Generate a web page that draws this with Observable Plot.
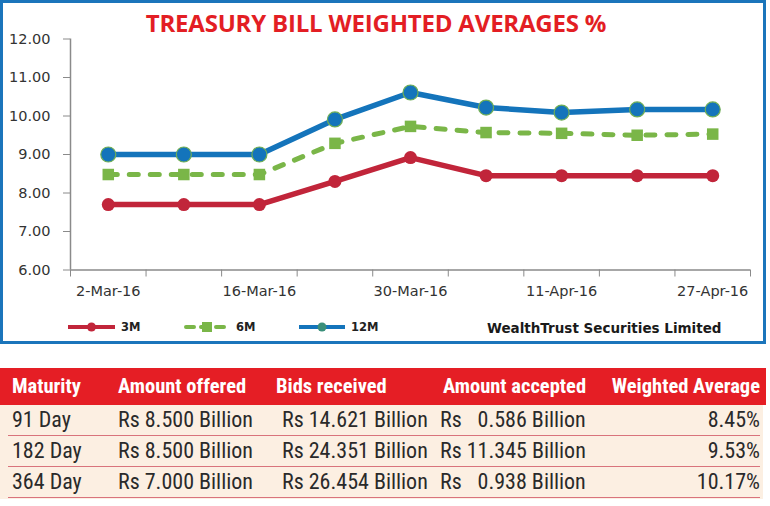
<!DOCTYPE html>
<html><head><meta charset="utf-8">
<script src="https://cdn.jsdelivr.net/npm/d3@7"></script>
<script src="https://cdn.jsdelivr.net/npm/@observablehq/plot@0.6"></script>
<style>
html,body{margin:0;padding:0;background:#fff;}
body{width:770px;height:506px;overflow:hidden;position:relative;font-family:"DejaVu Sans",sans-serif;}
#frame{position:absolute;left:0;top:0;width:760px;height:338px;border:3px solid #1b75bb;}
#title{position:absolute;left:0;top:6px;width:752px;text-align:center;font-family:"Open Sans",sans-serif;font-weight:700;font-size:24px;color:#e31e24;letter-spacing:-0.2px;}
#chart{position:absolute;left:0;top:0;}
#legend{position:absolute;left:0;top:315px;width:760px;height:24px;}
.lg{position:absolute;top:0;display:flex;align-items:center;height:24px;font-weight:700;font-size:11.5px;color:#222;}
#credit{position:absolute;left:487px;top:320px;font-weight:700;font-size:13.5px;color:#1a1a1a;}
#tbl{position:absolute;left:0;top:368px;width:766px;font-family:"Liberation Sans Narrow","Roboto Condensed","Liberation Sans",sans-serif;}
#tbl .hdr{height:37px;background:#e51e25;color:#fff;font-weight:700;font-size:20.5px;position:relative;}
#tbl .rowbg{background:#fcefe2;width:763px;padding-bottom:1px;}
#tbl .row{height:30px;color:#2a2a2a;font-size:22px;position:relative;border-bottom:1.5px solid #d9737c;margin:0 3px 0 8px;}
#tbl span{position:absolute;white-space:pre;}
</style></head>
<body>
<div id="frame"></div>
<div id="chart"></div>
<div id="title">TREASURY BILL WEIGHTED AVERAGES %</div>
<div id="legend"></div>
<div id="credit">WealthTrust Securities Limited</div>
<div id="tbl"></div>
<script>
// ---- chart data ----
const dates = ["2-Mar-16","9-Mar-16","16-Mar-16","23-Mar-16","30-Mar-16","6-Apr-16","11-Apr-16","20-Apr-16","27-Apr-16"];
const labelIdx = [0,2,4,6,8];
const m3  = [7.70,7.70,7.70,8.30,8.92,8.45,8.45,8.45,8.45];
const m6  = [8.48,8.48,8.48,9.29,9.73,9.57,9.55,9.50,9.53];
const m12 = [9.00,9.00,9.00,9.91,10.61,10.22,10.09,10.17,10.17];
const yTicks = [6,7,8,9,10,11,12];
const seriesNames = ["3M","6M","12M"];
const seriesColors = ["#c1253a","#7ab648","#1474bb"];

// ---- table data ----
const colHeaders = ["Maturity","Amount offered","Bids received","Amount accepted","Weighted Average"];
const maturity = ["91 Day","182 Day","364 Day"];
const offered  = ["Rs 8.500 Billion","Rs 8.500 Billion","Rs 7.000 Billion"];
const bids     = ["Rs 14.621 Billion","Rs 24.351 Billion","Rs 26.454 Billion"];
const accepted = ["Rs \u20070.586 Billion","Rs 11.345 Billion","Rs \u20070.938 Billion"];
const wavg     = ["8.45%","9.53%","10.17%"];

const toRows = (vals) => vals.map((v,i)=>({i, v}));
const d3m = toRows(m3), d6m = toRows(m6), d12m = toRows(m12);

const chart = Plot.plot({
  width: 763, height: 300,
  marginLeft: 70, marginTop: 38.5, marginBottom: 30.5, marginRight: 13,
  style: {fontFamily: "DejaVu Sans, sans-serif", color: "#333", background: "transparent"},
  x: {type: "linear", domain: [-0.5, 8.5]},
  y: {domain: [6, 12]},
  marks: [
    Plot.axisY({ticks: yTicks, tickSize: 7, tickPadding: 13, tickFormat: d3.format(".2f"), fontSize: 14.5, stroke: "#8a8a8a", label: null, fill: "#333"}),
    Plot.axisX({ticks: d3.range(-0.5, 9, 1), tickSize: 7, tickFormat: () => "", stroke: "#8a8a8a", label: null}),
    Plot.axisX({ticks: labelIdx, tickSize: 0, tickPadding: 16, tickFormat: i => dates[i], fontSize: 14.5, label: null, fill: "#333"}),
    Plot.ruleY([6], {stroke: "#8a8a8a", strokeWidth: 1.5}),
    Plot.ruleX([-0.5], {stroke: "#8a8a8a", strokeWidth: 1.5}),
    Plot.line(d3m, {x: "i", y: "v", stroke: seriesColors[0], strokeWidth: 5.5}),
    Plot.dot(d3m, {x: "i", y: "v", r: 6.5, fill: seriesColors[0]}),
    Plot.line(d6m, {x: "i", y: "v", stroke: seriesColors[1], strokeWidth: 5, strokeDasharray: "9,12", strokeLinecap: "round"}),
    Plot.dot(d6m, {x: "i", y: "v", r: 6.5, symbol: "square", fill: seriesColors[1]}),
    Plot.line(d12m, {x: "i", y: "v", stroke: seriesColors[2], strokeWidth: 5.5}),
    Plot.dot(d12m, {x: "i", y: "v", r: 7.5, fill: seriesColors[2], stroke: "#6fae55", strokeWidth: 1.2})
  ]
});
document.getElementById("chart").appendChild(chart);

// ---- legend ----
const legendPos = [[66,121],[182,236],[297,351]];
const lg = document.getElementById("legend");
seriesNames.forEach((name, k) => {
  const [x0, xt] = legendPos[k];
  const w = xt - x0 - 4;
  const div = document.createElement("div");
  div.className = "lg";
  div.style.left = x0 + "px";
  const sw = d3.create("svg").attr("width", w).attr("height", 24).style("margin-right", "4px");
  const line = sw.append("line").attr("x1", 2).attr("x2", w-2).attr("y1", 12).attr("y2", 12)
    .attr("stroke", seriesColors[k]).attr("stroke-width", 4);
  if (k === 1) line.attr("stroke-dasharray", "8,7").attr("stroke-linecap","round").attr("x1",4);
  if (k === 0) sw.append("circle").attr("cx", w/2).attr("cy", 12).attr("r", 4.5).attr("fill", seriesColors[0]);
  if (k === 1) sw.append("rect").attr("x", w/2-5).attr("y", 7).attr("width", 10).attr("height", 10).attr("fill", seriesColors[1]);
  if (k === 2) sw.append("circle").attr("cx", w/2).attr("cy", 12).attr("r", 4.5).attr("fill", "#3a8f7a");
  div.appendChild(sw.node());
  const t = document.createElement("span");
  t.textContent = name;
  div.appendChild(t);
  lg.appendChild(div);
});

// ---- table ----
const tbl = document.getElementById("tbl");
const hdrX = [12, 118, 276, 443, null];
const hdr = document.createElement("div");
hdr.className = "hdr";
colHeaders.forEach((h, j) => {
  const s = document.createElement("span");
  s.textContent = h;
  s.style.top = "6px";
  if (hdrX[j] !== null) s.style.left = hdrX[j] + "px"; else s.style.right = "6px";
  hdr.appendChild(s);
});
tbl.appendChild(hdr);
const bodyX = [4, 110, 274, 432, null];
const bg = document.createElement("div");
bg.className = "rowbg";
maturity.forEach((m, r) => {
  const row = document.createElement("div");
  row.className = "row";
  [m, offered[r], bids[r], accepted[r], wavg[r]].forEach((v, j) => {
    const s = document.createElement("span");
    s.textContent = v;
    s.style.top = "2px";
    if (bodyX[j] !== null) s.style.left = bodyX[j] + "px"; else s.style.right = "0px";
    row.appendChild(s);
  });
  bg.appendChild(row);
});
tbl.appendChild(bg);
</script>
</body></html>
